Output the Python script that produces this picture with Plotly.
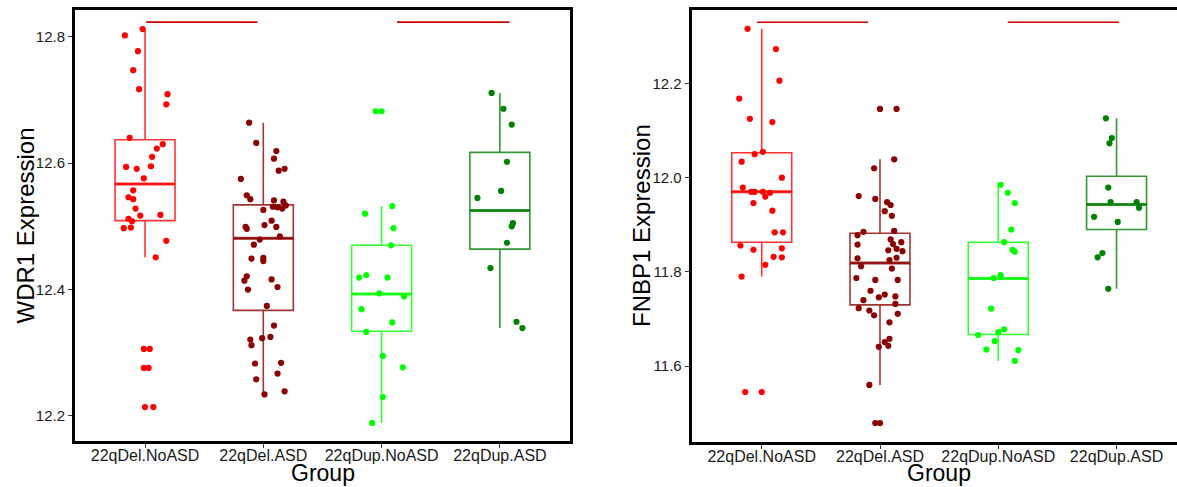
import plotly.graph_objects as go

groups = ["22qDel.NoASD", "22qDel.ASD", "22qDup.NoASD", "22qDup.ASD"]
point_colors = ["#FF0000", "#8B0000", "#00FF00", "#008000"]
box_colors = ["rgba(255,0,0,0.8)", "rgba(139,0,0,0.8)", "rgba(0,255,0,0.8)", "rgba(0,128,0,0.8)"]

# ---------------- WDR1 (left panel) ----------------
wdr1_del_noasd = [12.802, 12.812, 12.777, 12.747, 12.717, 12.709, 12.693, 12.640, 12.630, 12.623, 12.610,
                  12.594, 12.591, 12.595, 12.576, 12.557, 12.546, 12.543, 12.528, 12.517, 12.518, 12.512,
                  12.508, 12.497, 12.498, 12.477, 12.451, 12.306, 12.306, 12.276, 12.276, 12.214, 12.214]
wdr1_del_noasd_jit = [-0.17, -0.02, -0.06, -0.10, -0.05, 0.19, 0.18, -0.13, 0.15, 0.10, 0.06,
                      -0.16, -0.07, 0.05, -0.01, -0.10, -0.14, -0.10, -0.08, -0.04, 0.13, -0.14,
                      -0.11, -0.18, -0.12, 0.18, 0.09, -0.01, 0.04, -0.01, 0.03, 0.00, 0.07]
wdr1_del_asd = [12.664, 12.632, 12.619, 12.607, 12.588, 12.591, 12.575, 12.549, 12.543, 12.541, 12.539,
                12.531, 12.530, 12.528, 12.533, 12.526, 12.509, 12.499, 12.496, 12.502, 12.499, 12.484,
                12.479, 12.471, 12.449, 12.450, 12.445, 12.421, 12.414, 12.416, 12.400, 12.404, 12.374,
                12.343, 12.321, 12.312, 12.323, 12.325, 12.283, 12.284, 12.267, 12.258, 12.239, 12.234]
wdr1_del_asd_jit = [-0.12, -0.06, 0.11, 0.09, 0.13, 0.18, -0.19, -0.14, -0.11, 0.09, 0.17,
                    0.08, 0.12, 0.16, 0.19, 0.00, 0.07, -0.15, -0.14, 0.01, 0.11, 0.14,
                    -0.03, -0.08, -0.10, 0.00, 0.00, -0.14, -0.16, 0.07, -0.13, 0.12, 0.03,
                    0.09, -0.11, -0.10, -0.01, 0.06, -0.07, 0.15, 0.12, -0.06, 0.18, 0.01]
wdr1_dup_noasd = [12.682, 12.682, 12.520, 12.532, 12.497, 12.470, 12.419, 12.423, 12.419, 12.394,
                  12.389, 12.369, 12.348, 12.333, 12.295, 12.277, 12.230, 12.189]
wdr1_dup_noasd_jit = [-0.05, 0.00, -0.14, 0.09, 0.10, 0.08, -0.19, -0.13, 0.05, -0.02,
                      0.19, -0.17, 0.09, -0.13, 0.01, 0.18, 0.01, -0.08]
wdr1_dup_asd = [12.711, 12.686, 12.661, 12.602, 12.556, 12.545, 12.505, 12.500, 12.474, 12.434, 12.349, 12.339]
wdr1_dup_asd_jit = [-0.07, 0.03, 0.10, 0.06, 0.01, -0.19, 0.11, 0.10, 0.06, -0.08, 0.14, 0.19]

wdr1_q1 = [12.509, 12.367, 12.334, 12.464]
wdr1_median = [12.567, 12.481, 12.393, 12.525]
wdr1_q3 = [12.637, 12.534, 12.470, 12.617]
wdr1_lower = [12.451, 12.234, 12.189, 12.339]
wdr1_upper = [12.812, 12.664, 12.532, 12.711]

# ---------------- FNBP1 (right panel) ----------------
fnbp1_del_noasd = [12.316, 12.273, 12.206, 12.168, 12.125, 12.118, 12.050, 12.055, 12.034, 12.000, 11.979,
                   11.970, 11.970, 11.970, 11.968, 11.960, 11.946, 11.930, 11.884, 11.884, 11.856, 11.847,
                   11.850, 11.832, 11.831, 11.815, 11.790, 11.545, 11.545]
fnbp1_del_noasd_jit = [-0.12, 0.12, 0.15, -0.19, -0.10, 0.09, -0.06, 0.01, -0.17, 0.17, -0.16,
                       -0.09, -0.06, 0.01, 0.07, 0.03, -0.07, 0.09, 0.11, 0.18, -0.18, -0.07,
                       0.17, 0.10, 0.17, 0.03, -0.17, -0.14, 0.00]
fnbp1_del_asd = [12.146, 12.146, 12.039, 12.020, 11.961, 11.955, 11.948, 11.942, 11.929, 11.919, 11.887,
                 11.885, 11.878, 11.869, 11.863, 11.858, 11.859, 11.849, 11.846, 11.844, 11.829, 11.830,
                 11.825, 11.812, 11.807, 11.787, 11.783, 11.783, 11.760, 11.752, 11.746, 11.748, 11.740,
                 11.732, 11.723, 11.718, 11.708, 11.711, 11.693, 11.658, 11.651, 11.641, 11.643, 11.560,
                 11.479, 11.479]
fnbp1_del_asd_jit = [0.00, 0.14, 0.12, -0.05, -0.18, -0.04, 0.06, 0.09, 0.04, 0.10, 0.12,
                     -0.14, -0.19, 0.09, 0.18, -0.19, 0.11, 0.14, 0.07, 0.19, -0.19, 0.14,
                     0.08, -0.16, 0.10, -0.20, -0.04, 0.15, -0.08, 0.04, -0.01, 0.13, -0.14,
                     0.13, -0.18, -0.09, -0.05, 0.15, 0.08, 0.08, 0.04, -0.01, 0.07, -0.09,
                     -0.04, 0.00]
fnbp1_dup_noasd = [11.985, 11.968, 11.946, 11.890, 11.863, 11.847, 11.843, 11.793, 11.787, 11.722,
                   11.678, 11.672, 11.666, 11.653, 11.635, 11.634, 11.611]
fnbp1_dup_noasd_jit = [0.02, 0.08, 0.14, 0.11, 0.05, 0.12, 0.14, 0.02, -0.04, -0.06,
                       0.05, 0.00, -0.17, -0.03, -0.10, 0.17, 0.14]
fnbp1_dup_asd = [12.126, 12.084, 12.073, 11.979, 11.948, 11.948, 11.936, 11.917, 11.906, 11.831, 11.840, 11.764]
fnbp1_dup_asd_jit = [-0.09, -0.04, -0.06, -0.07, -0.05, 0.17, 0.19, -0.19, 0.01, -0.16, -0.12, -0.07]

fnbp1_q1 = [11.863, 11.730, 11.667, 11.890]
fnbp1_median = [11.970, 11.819, 11.786, 11.943]
fnbp1_q3 = [12.053, 11.882, 11.863, 12.003]
fnbp1_lower = [11.790, 11.560, 11.611, 11.764]
fnbp1_upper = [12.316, 12.039, 11.985, 12.126]

# significance bars (x in category units, y in data units)
wdr1_sig_x0 = [0.01, 2.13]
wdr1_sig_x1 = [0.95, 3.08]
wdr1_sig_y = 12.823
fnbp1_sig_x0 = [-0.04, 2.08]
fnbp1_sig_x1 = [0.90, 3.02]
fnbp1_sig_y = 12.330

y_ticks_left = [12.2, 12.4, 12.6, 12.8]
y_ticks_right = [11.6, 11.8, 12.0, 12.2]

BOX_W = 0.507

fig = go.Figure()


def add_panel(xa, ya, vals_list, jit_list, q1, med, q3, lo, hi, sx0, sx1, sy):
    for i in range(4):
        fig.add_trace(go.Box(
            x=[i], q1=[q1[i]], median=[med[i]], q3=[q3[i]],
            lowerfence=[lo[i]], upperfence=[hi[i]],
            width=BOX_W, whiskerwidth=0, boxpoints=False,
            line=dict(color=box_colors[i], width=1.6),
            fillcolor="rgba(0,0,0,0)", xaxis=xa, yaxis=ya, showlegend=False,
            hoverinfo="skip"))
        fig.add_trace(go.Scatter(
            x=[i - BOX_W / 2, i + BOX_W / 2], y=[med[i], med[i]], mode="lines",
            line=dict(color=box_colors[i], width=3), xaxis=xa, yaxis=ya,
            showlegend=False, hoverinfo="skip"))
    for i in range(4):
        fig.add_trace(go.Scatter(
            x=[i + j for j in jit_list[i]], y=vals_list[i], mode="markers",
            marker=dict(color=point_colors[i], size=6.2, line=dict(width=0)),
            xaxis=xa, yaxis=ya, showlegend=False))
    for a, b in zip(sx0, sx1):
        fig.add_trace(go.Scatter(
            x=[a, b], y=[sy, sy], mode="lines", line=dict(color="#D00000", width=1.6),
            xaxis=xa, yaxis=ya, showlegend=False, hoverinfo="skip"))


add_panel("x", "y",
          [wdr1_del_noasd, wdr1_del_asd, wdr1_dup_noasd, wdr1_dup_asd],
          [wdr1_del_noasd_jit, wdr1_del_asd_jit, wdr1_dup_noasd_jit, wdr1_dup_asd_jit],
          wdr1_q1, wdr1_median, wdr1_q3, wdr1_lower, wdr1_upper,
          wdr1_sig_x0, wdr1_sig_x1, wdr1_sig_y)
add_panel("x2", "y2",
          [fnbp1_del_noasd, fnbp1_del_asd, fnbp1_dup_noasd, fnbp1_dup_asd],
          [fnbp1_del_noasd_jit, fnbp1_del_asd_jit, fnbp1_dup_noasd_jit, fnbp1_dup_asd_jit],
          fnbp1_q1, fnbp1_median, fnbp1_q3, fnbp1_lower, fnbp1_upper,
          fnbp1_sig_x0, fnbp1_sig_x1, fnbp1_sig_y)

W, H = 1177, 487
FONT = "Liberation Sans, Arial, sans-serif"

xcommon = dict(tickmode="array", tickvals=[0, 1, 2, 3], ticktext=groups,
               showgrid=False, zeroline=False, showline=True, linecolor="black", linewidth=3,
               ticks="outside", ticklen=4, tickcolor="#333333", tickwidth=1,
               ticklabelstandoff=-6,
               tickfont=dict(family=FONT, size=16, color="#1a1a1a"))
ycommon = dict(showgrid=False, zeroline=False, showline=True, linecolor="black", linewidth=3,
               ticks="outside", ticklen=4, tickcolor="#333333", tickwidth=1,
               tickfont=dict(family=FONT, size=15, color="#1a1a1a"))

fig.update_layout(
    width=W, height=H, margin=dict(l=0, r=0, t=0, b=0),
    paper_bgcolor="white", plot_bgcolor="white", showlegend=False, boxmode="overlay",
    xaxis=dict(domain=[75 / W, 570 / W], range=[-0.592, 3.5925], mirror=True, anchor="y", **xcommon),
    yaxis=dict(domain=[1 - 441 / H, 1 - 10 / H], range=[12.1604, 12.8422], mirror=True, anchor="x",
               tickvals=y_ticks_left, ticktext=[f"{v:.1f}" for v in y_ticks_left], **ycommon),
    xaxis2=dict(domain=[691.7 / W, 1.0], range=[-0.592, 3.511], mirror=True, anchor="y2", **xcommon),
    yaxis2=dict(domain=[1 - 441.7 / H, 1 - 10 / H], range=[11.4395, 12.356], mirror=False, anchor="x2",
                tickvals=y_ticks_right, ticktext=[f"{v:.1f}" for v in y_ticks_right], **ycommon),
    annotations=[
        dict(text="Group", x=322.5 / W, y=0.0, xref="paper", yref="paper", showarrow=False,
             xanchor="center", yanchor="bottom", borderpad=0,
             font=dict(family=FONT, size=23, color="black")),
        dict(text="Group", x=939 / W, y=0.0, xref="paper", yref="paper", showarrow=False,
             xanchor="center", yanchor="bottom", borderpad=0,
             font=dict(family=FONT, size=23, color="black")),
        dict(text="WDR1 Expression", x=25 / W, y=1 - 225.5 / H, xref="paper", yref="paper",
             showarrow=False, textangle=-90, xanchor="center", yanchor="middle",
             font=dict(family=FONT, size=24, color="black")),
        dict(text="FNBP1 Expression", x=641 / W, y=1 - 226 / H, xref="paper", yref="paper",
             showarrow=False, textangle=-90, xanchor="center", yanchor="middle",
             font=dict(family=FONT, size=24, color="black")),
    ],
)

fig.write_html("out.html", config={"displayModeBar": False},
               post_script="document.body.style.margin='0';document.body.style.overflow='hidden';")
